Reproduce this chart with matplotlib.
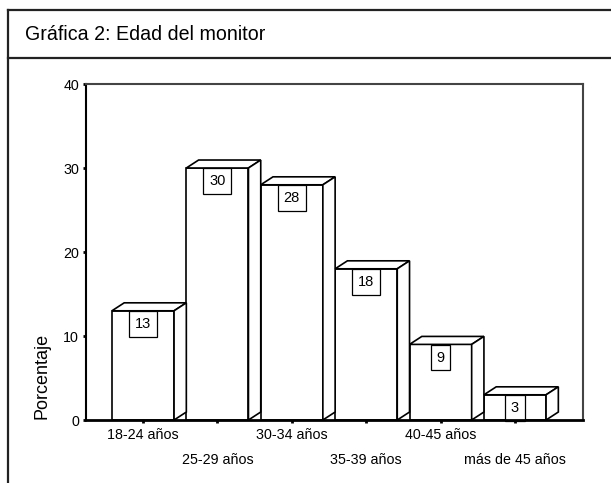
import matplotlib.pyplot as plt
from matplotlib.patches import Polygon
from matplotlib.lines import Line2D

plt.rcParams['font.family'] = ['Liberation Sans', 'DejaVu Sans']

titulo = 'Gráfica 2: Edad del monitor'
categorias = ['18-24 años', '25-29 años', '30-34 años', '35-39 años',
              '40-45 años', 'más de 45 años']
porcentajes = [13, 30, 28, 18, 9, 3]
yticks = [0, 10, 20, 30, 40]

W, H = 611, 483
fig = plt.figure(figsize=(W / 100, H / 100), dpi=100)

# marco exterior y cabecera del titulo
marco = '#222222'
fig.add_artist(Line2D([8 / W, 1], [1 - 10 / H, 1 - 10 / H], color=marco, lw=1.6))
fig.add_artist(Line2D([8 / W, 1], [1 - 58 / H, 1 - 58 / H], color=marco, lw=1.6))
fig.add_artist(Line2D([8 / W, 8 / W], [0, 1 - 10 / H], color=marco, lw=1.6))
fig.text(25 / W, 1 - 34 / H, titulo, fontsize=14.1, va='center', ha='left')

ax = fig.add_axes([86 / W, 63 / H, 497 / W, 336 / H])

ancho = 0.835   # cara frontal
dx, dy = 0.165, 0.95   # profundidad del efecto 3d
x = list(range(len(porcentajes)))

ax.bar(x, porcentajes, width=ancho, color='white', edgecolor='black',
       linewidth=1.2, zorder=2)
for xi, v in zip(x, porcentajes):
    x0, x1 = xi - ancho / 2, xi + ancho / 2
    techo = [(x0, v), (x0 + dx, v + dy), (x1 + dx, v + dy), (x1, v)]
    lado = [(x1, 0), (x1 + dx, dy), (x1 + dx, v + dy), (x1, v)]
    for pts in (techo, lado):
        ax.add_patch(Polygon(pts, closed=True, facecolor='white',
                             edgecolor='black', linewidth=1.2, zorder=2))
    ax.annotate(f'{v:g}', xy=(xi, v), xytext=(0, -4.4), textcoords='offset points',
                ha='center', va='top', fontsize=10.5, zorder=4,
                bbox=dict(boxstyle='square,pad=0.4', fc='white', ec='black', lw=0.9))

ax.set_xlim(-0.766, 5.914)
ax.set_ylim(0, 40)
ax.set_yticks(yticks)
ax.set_xticks(x)
ax.set_xticklabels(categorias)
ax.tick_params(axis='both', direction='out', length=2, width=2, labelsize=10.3,
               color='black')
ax.tick_params(axis='y', pad=3)
for i, tick in enumerate(ax.xaxis.get_major_ticks()):
    tick.set_pad(4 if i % 2 == 0 else 21.5)

ax.spines['left'].set_linewidth(1.5)
ax.spines['bottom'].set_linewidth(2)
ax.spines['bottom'].set_zorder(5)
for lado_ in ('top', 'right'):
    ax.spines[lado_].set_color('#444444')
    ax.spines[lado_].set_linewidth(1.5)

fig.text(42 / W, 1 - 376 / H, 'Porcentaje', rotation=90, fontsize=13,
         ha='center', va='center')

fig.savefig('out.png', dpi=100)
